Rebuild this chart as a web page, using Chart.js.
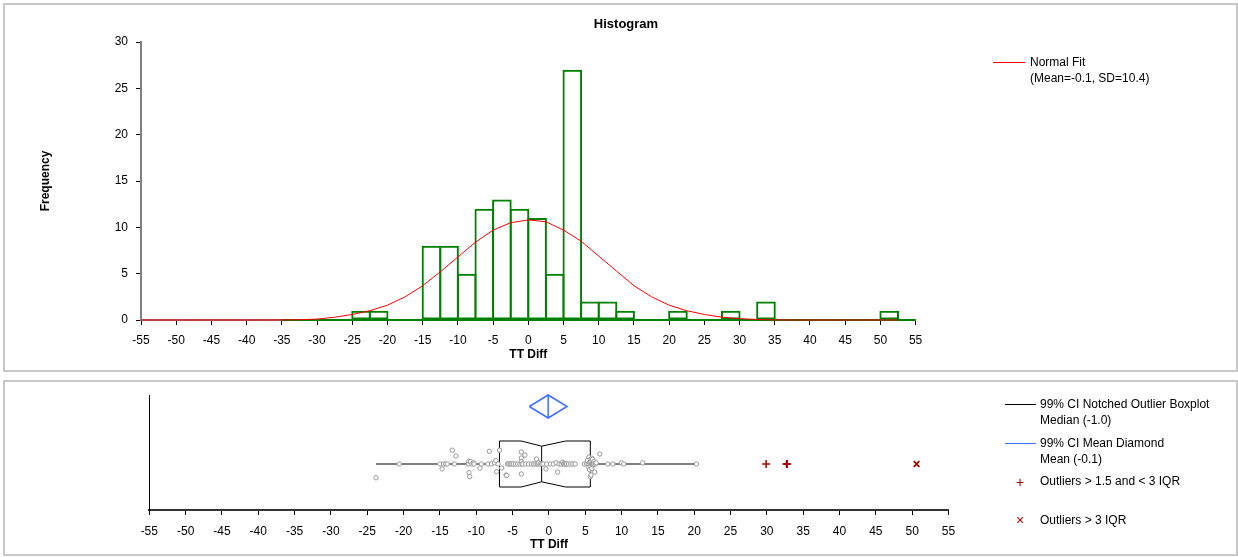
<!DOCTYPE html>
<html>
<head>
<meta charset="utf-8">
<title>TT Diff histogram</title>
<script src="https://cdn.jsdelivr.net/npm/chart.js@4.4.1/dist/chart.umd.min.js"></script>
<style>
  body { margin: 0; width: 1238px; height: 557px; position: relative; overflow: hidden; background: #fff;
         font-family: 'Liberation Sans', Arial, sans-serif; }
  .panel { position: absolute; left: 3px; width: 1235px; border: 2px solid #c8c8c8; box-sizing: border-box; }
  canvas { position: absolute; left: 0; }
  .legend { position: absolute; font-size: 12px; line-height: 16px; color: #000; white-space: nowrap; }
  .swatch { position: absolute; height: 0; border-top: 1px solid; }
  .mark { position: absolute; width: 14px; margin-left: -7px; text-align: center; color: #a00000;
          font-size: 14px; line-height: 16px; }
</style>
</head>
<body>
<div class="panel" style="top:3px;height:369px"></div>
<div class="panel" style="top:380px;height:176px"></div>

<canvas id="histChart" width="1238" height="372" style="top:0"></canvas>
<canvas id="boxChart" width="1238" height="182" style="top:375px"></canvas>

<!-- legends -->
<div class="swatch" style="left:993px;top:62px;width:32px;border-color:#ff0000"></div>
<div class="legend" style="left:1030px;top:54px">Normal Fit<br>(Mean=-0.1, SD=10.4)</div>

<div class="swatch" style="left:1005px;top:404px;width:31px;border-color:#000"></div>
<div class="legend" style="left:1040px;top:396px">99% CI Notched Outlier Boxplot<br>Median (-1.0)</div>
<div class="swatch" style="left:1005px;top:443px;width:31px;border-color:#3f6fff"></div>
<div class="legend" style="left:1040px;top:435px">99% CI Mean Diamond<br>Mean (-0.1)</div>
<div class="mark" style="left:1020px;top:474px">+</div>
<div class="legend" style="left:1040px;top:473px">Outliers &gt; 1.5 and &lt; 3 IQR</div>
<div class="mark" style="left:1020px;top:512px">&times;</div>
<div class="legend" style="left:1040px;top:512px">Outliers &gt; 3 IQR</div>

<script>
// ---- data ----
const xTickMin = -55;
const xTickMax = 55;

// histogram bins, width 2.5
const binCenters = [-33.75, -31.25, -28.75, -26.25, -23.75, -21.25, -18.75, -16.25, -13.75, -11.25,
  -8.75, -6.25, -3.75, -1.25, 1.25, 3.75, 6.25, 8.75, 11.25, 13.75,
  16.25, 18.75, 21.25, 23.75, 26.25, 28.75, 31.25, 33.75, 36.25, 38.75,
  41.25, 43.75, 46.25, 48.75, 51.25, 53.75];
const binCounts = [0, 0, 0, 0, 1, 1, 0, 0, 8, 8,
  5, 12, 13, 12, 11, 5, 27, 2, 2, 1,
  0, 0, 1, 0, 0, 1, 0, 2, 0, 0,
  0, 0, 0, 0, 1, 0];
const baselineX = [-35, 55];

// normal fit curve (Mean=-0.1, SD=10.4)
const fitX = [-55, -52.5, -50, -47.5, -45, -42.5, -40, -37.5,
  -35, -32.5, -30, -27.5, -25, -22.5, -20, -17.5, -15, -12.5, -10, -7.5, -5, -2.5,
  0, 2.5, 5, 7.5, 10, 12.5, 15, 17.5, 20, 22.5, 25, 27.5, 30, 32.5, 35,
  37.5, 40, 42.5, 45, 47.5, 50, 52.5];
const fitY = [0, 0, 0, 0, 0, 0, 0, 0,
  0.01, 0.03, 0.1, 0.3, 0.6, 1.0, 1.6, 2.5, 3.7, 5.2, 6.8, 8.4, 9.7, 10.5,
  10.8, 10.6, 9.7, 8.5, 6.9, 5.3, 3.7, 2.5, 1.6, 1.0, 0.6, 0.3, 0.15, 0.05, 0.01,
  0, 0, 0, 0, 0, 0, 0];

// individual values and their vertical jitter in the boxplot
const dotValues = [-23.8, -20.6,
  -15.0, -14.7, -14.5, -14.2, -14.0, -13.3, -13.0, -12.8,
  -11.1, -11.0, -11.0, -10.9, -10.8, -10.6, -10.4, -10.3,
  -9.5, -9.3, -8.4, -8.2, -7.9,
  -7.5, -7.3, -7.2, -7.0, -6.8, -6.5, -5.9, -5.8, -5.7, -5.5, -5.3, -5.1,
  -4.9, -4.6, -4.3, -4.0, -3.8, -3.8, -3.8, -3.8, -3.7, -3.6, -3.3, -3.2, -2.8,
  -2.4, -2.1, -1.9, -1.7, -1.6, -1.5, -1.4, -1.2, -1.0, -0.8, -0.4, -0.3,
  0.2, 0.6, 1.0, 1.2, 1.4, 1.7, 1.9, 2.0, 2.1, 2.3, 2.4,
  2.7, 3.0, 3.3, 3.6, 4.9,
  5.2, 5.3, 5.4, 5.5, 5.5, 5.6, 5.6, 5.7, 5.7, 5.7, 5.8, 5.8, 5.8, 5.9, 5.9, 5.9,
  6.0, 6.0, 6.0, 6.1, 6.1, 6.2, 6.2, 6.3, 6.4, 6.5, 7.0,
  8.1, 8.8, 10.0, 10.3, 12.9, 20.3];
const dotJitter = [2.8, 4,
  4, 3.57, 4, 4, 4, 5.2, 4, 4.7,
  4, 3.25, 4.25, 2.9, 4.2, 4, 4.1, 4,
  3.65, 4, 4, 5.1, 4,
  4.1, 4.3, 3.33, 4, 5.2, 3.65, 3.04, 3.0, 4, 4, 4, 4,
  4, 4, 4, 4, 5.04, 4.52, 4.2, 3.13, 4, 4, 4.78, 4, 4,
  4, 4, 4, 4.43, 4, 4, 4.1, 4, 4, 4, 3.57, 4,
  4, 4, 4.1, 3.3, 4, 4, 4.15, 4, 4, 4, 4,
  4, 4, 4, 4, 4,
  4, 4.3, 4, 4.6, 3.7, 4.1, 3.5, 4.4, 2.9, 4, 3.04, 4.2, 3.8, 4.5, 4, 3.6,
  4.1, 4.4, 4, 3.9, 4, 4.2, 4, 3.3, 4, 4.1, 4.87,
  4, 4, 4.1, 4, 4.1, 4];

// boxplot statistics
const boxStats = [-23.8, -6.8, -1.0, 5.7, 20.3]; // low whisker, Q1, median, Q3, high whisker
const notchLimits = [-3.8, 2.3];
const meanDiamond = [-2.7, -0.1, 2.5]; // CI low, mean, CI high
const mildOutliers = [29.9, 32.7, 32.8];
const extremeOutliers = [50.6];

// ---- layout (rows of the boxplot panel, in its own y units 0..10) ----
const rowY = 4;
const boxLow = 2;
const boxHigh = 6;
const notchDepth = 0.45;
const diamondLow = 8;
const diamondMid = 9;
const diamondHigh = 10;

const FONT = "'Liberation Sans', Arial, sans-serif";
Chart.defaults.font.family = FONT;
Chart.defaults.font.size = 12;
Chart.defaults.color = '#000';

const pts = (xs, ys) => xs.map((x, i) => ({ x, y: ys[i] }));
const row = (xs, y) => xs.map((x) => ({ x, y }));

const axisTicks = (padding) => ({
  min: xTickMin,
  max: xTickMax,
  offset: false,
  ticks: { stepSize: 5, autoSkip: false, maxRotation: 0, padding },
});

// ---- histogram ----
new Chart(document.getElementById('histChart'), {
  type: 'bar',
  data: {
    datasets: [
      {
        type: 'line',
        data: pts(fitX, fitY),
        borderColor: '#ff0000',
        borderWidth: 1,
        pointRadius: 0,
        tension: 0,
        clip: 4,
        order: 0,
      },
      {
        type: 'line',
        data: row(baselineX, 0),
        borderColor: '#008000',
        borderWidth: 2,
        pointRadius: 0,
        clip: 4,
        order: 1,
      },
      {
        type: 'bar',
        data: pts(binCenters, binCounts),
        backgroundColor: 'rgba(0,0,0,0)',
        borderColor: '#008000',
        borderWidth: 2,
        borderSkipped: false,
        categoryPercentage: 1,
        barPercentage: 1.114,
        order: 2,
      },
    ],
  },
  options: {
    responsive: false,
    animation: false,
    events: [],
    layout: { padding: { left: 14, right: 0, top: 0, bottom: 0 } },
    plugins: {
      legend: { display: false },
      tooltip: { enabled: false },
      title: {
        display: true,
        text: 'Histogram',
        color: '#000',
        font: { size: 13, weight: 'bold' },
        padding: { top: 17, bottom: 9.4 },
      },
    },
    scales: {
      x: {
        type: 'linear',
        ...axisTicks(8),
        grid: { display: true, offset: false, drawOnChartArea: false, drawTicks: true, tickLength: 5, color: '#000' },
        border: { display: true, color: '#808080', width: 2 },
        title: { display: true, text: 'TT Diff', font: { size: 12, weight: 'bold' }, padding: { top: 0, bottom: 9.8 } },
        afterFit: (s) => { s.height = 52; },
      },
      y: {
        min: 0,
        max: 30,
        ticks: { stepSize: 5, padding: 8 },
        grid: { display: true, drawOnChartArea: false, drawTicks: true, tickLength: 5, color: '#000' },
        border: { display: true, color: '#808080', width: 2 },
        title: { display: true, text: 'Frequency', font: { size: 12, weight: 'bold' }, padding: { top: 24.4, bottom: 0 } },
        afterFit: (s) => { s.width = 127; },
      },
      legendSpace: {
        type: 'linear',
        position: 'right',
        grid: { display: false },
        ticks: { display: false },
        border: { display: false },
        afterFit: (s) => { s.width = 322.4; },
      },
    },
  },
});

// ---- notched boxplot with mean diamond ----
const [whiskLow, q1, median, q3, whiskHigh] = boxStats;
const [notchLow, notchHigh] = notchLimits;
const [ciLow, mean, ciHigh] = meanDiamond;

const boxOutline = [
  { x: q1, y: boxLow }, { x: notchLow, y: boxLow }, { x: median, y: boxLow + notchDepth },
  { x: notchHigh, y: boxLow }, { x: q3, y: boxLow }, { x: q3, y: boxHigh },
  { x: notchHigh, y: boxHigh }, { x: median, y: boxHigh - notchDepth }, { x: notchLow, y: boxHigh },
  { x: q1, y: boxHigh }, { x: q1, y: boxLow },
];
const medianLine = [{ x: median, y: boxLow + notchDepth }, { x: median, y: boxHigh - notchDepth }];
const whiskers = [{ x: whiskLow, y: rowY }, { x: q1, y: rowY }, { x: q1, y: null },
  { x: q3, y: rowY }, { x: whiskHigh, y: rowY }];
const diamond = [
  { x: ciLow, y: diamondMid }, { x: mean, y: diamondHigh }, { x: ciHigh, y: diamondMid },
  { x: mean, y: diamondLow }, { x: ciLow, y: diamondMid },
];
const meanLine = [{ x: mean, y: diamondLow }, { x: mean, y: diamondHigh }];

const outline = (data, color, width) => ({
  data,
  showLine: true,
  borderColor: color,
  borderWidth: width,
  pointRadius: 0,
  tension: 0,
  spanGaps: false,
  clip: 4,
  order: 2,
});

new Chart(document.getElementById('boxChart'), {
  type: 'scatter',
  data: {
    datasets: [
      outline(boxOutline, '#000', 1),
      outline(medianLine, '#000', 1),
      outline(whiskers, '#000', 1),
      outline(diamond, '#3f6fff', 1.5),
      outline(meanLine, '#3f6fff', 1.5),
      {
        data: pts(dotValues, dotJitter),
        pointStyle: 'circle',
        pointRadius: 2.2,
        borderWidth: 1,
        borderColor: '#999999',
        backgroundColor: '#ffffff',
        order: 0,
      },
      {
        data: row(mildOutliers, rowY),
        pointStyle: 'cross',
        pointRadius: 4,
        borderWidth: 1.5,
        borderColor: '#a00000',
        order: 0,
      },
      {
        data: row(extremeOutliers, rowY),
        pointStyle: 'crossRot',
        pointRadius: 4,
        borderWidth: 1.8,
        borderColor: '#a00000',
        order: 0,
      },
    ],
  },
  options: {
    responsive: false,
    animation: false,
    events: [],
    layout: { padding: { left: 0, right: 289.5, top: 20, bottom: 0 } },
    plugins: { legend: { display: false }, tooltip: { enabled: false } },
    scales: {
      x: {
        type: 'linear',
        ...axisTicks(9),
        grid: { display: true, drawOnChartArea: false, drawTicks: true, tickLength: 5, color: '#000' },
        border: { display: true, color: '#333', width: 2 },
        title: { display: true, text: 'TT Diff', font: { size: 12, weight: 'bold' }, padding: { top: 0, bottom: 4.8 } },
        afterFit: (s) => { s.height = 47; },
      },
      y: {
        min: 0,
        max: 10,
        ticks: { display: false },
        grid: { display: false },
        border: { display: true, color: '#000', width: 1 },
        afterFit: (s) => { s.width = 149.3; },
      },
    },
  },
});
</script>
</body>
</html>
